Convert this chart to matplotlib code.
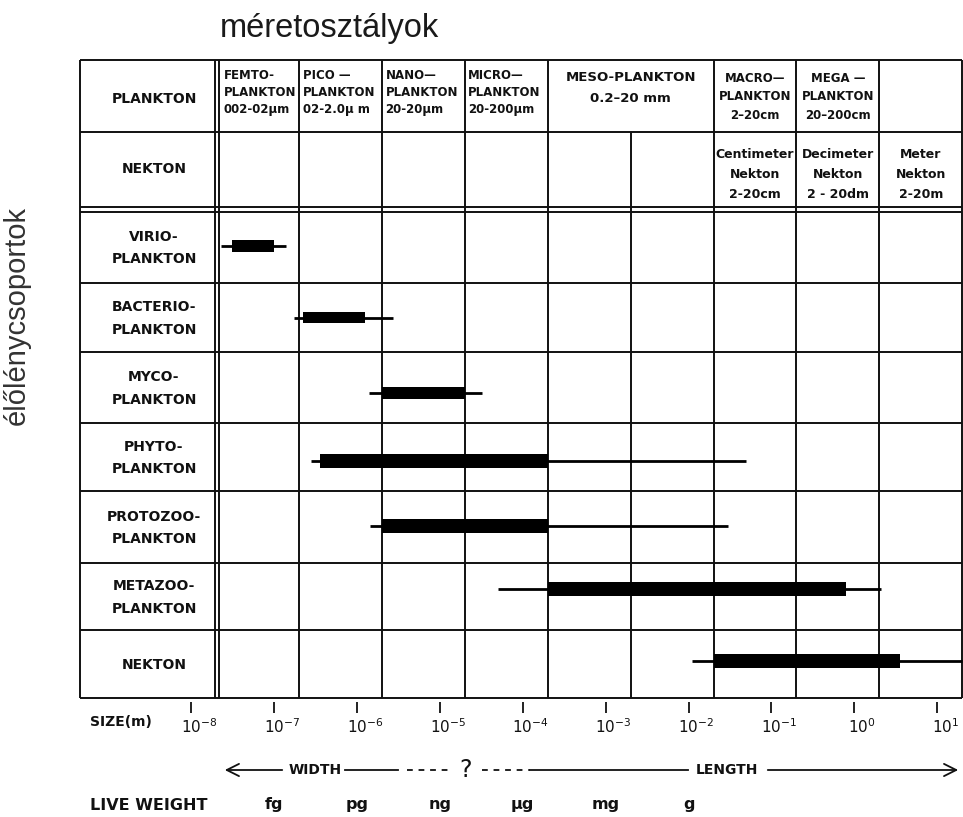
import numpy as np
import matplotlib
matplotlib.use('Agg')
import matplotlib.pyplot as plt
import matplotlib.transforms as mtransforms
from matplotlib.ticker import NullLocator

# organism groups (rows) and their size ranges in metres
groups = ['VIRIO-\nPLANKTON', 'BACTERIO-\nPLANKTON', 'MYCO-\nPLANKTON', 'PHYTO-\nPLANKTON',
          'PROTOZOO-\nPLANKTON', 'METAZOO-\nPLANKTON', 'NEKTON']
core_lo = [3.1e-8, 2.2e-7, 2e-6, 3.6e-7, 2e-6, 2e-4, 2e-2]
core_hi = [1.0e-7, 1.25e-6, 2e-5, 2e-4, 2e-4, 0.8, 3.6]
range_lo = [2.3e-8, 1.75e-7, 1.4e-6, 2.75e-7, 1.45e-6, 5e-5, 1.1e-2]
range_hi = [1.4e-7, 2.7e-6, 3.2e-5, 5e-2, 3e-2, 2.1, 20]

# size class borders (m) and the header texts
class_edges = [2e-8, 2e-7, 2e-6, 2e-5, 2e-4, 2e-2, 2e-1, 2, 20]
plankton_classes = ['FEMTO-\nPLANKTON\n002-02µm', 'PICO —\nPLANKTON\n02-2.0µ m', 'NANO—\nPLANKTON\n20-20µm',
                    'MICRO—\nPLANKTON\n20-200µm', 'MESO-PLANKTON\n0.2–20 mm', 'MACRO—\nPLANKTON\n2–20cm',
                    'MEGA —\nPLANKTON\n20–200cm', '']
nekton_classes = ['Centimeter\nNekton\n2-20cm', 'Decimeter\nNekton\n2 - 20dm', 'Meter\nNekton\n2-20m']

tick_sizes = [1e-8, 1e-7, 1e-6, 1e-5, 1e-4, 1e-3, 1e-2, 1e-1, 1e0, 1e1]
tick_labels = ['$10^{-8}$', '$10^{-7}$', '$10^{-6}$', '$10^{-5}$', '$10^{-4}$',
               '$10^{-3}$', '$10^{-2}$', '$10^{-1}$', '$10^{0}$', '$10^{1}$']
weight_sizes = [1e-7, 1e-6, 1e-5, 1e-4, 1e-3, 1e-2]
weight_labels = ['fg', 'pg', 'ng', 'µg', 'mg', 'g']

# layout (pixels from the top of the figure)
W, H = 963, 817
row_edges = [211.5, 283, 352, 423, 491, 563, 630, 698]
bar_dy = [-1, 0, 5, 4, -1, -8, -3]
bar_h = [12, 11, 12, 14, 14, 14, 14]
LW = 1.4
BOLD = dict(family='DejaVu Sans', fontweight='bold', color='#111111')

fig = plt.figure(figsize=(W / 100, H / 100), dpi=100)
ax = fig.add_axes([80 / W, (H - 702) / H, (962.5 - 80) / W, (702 - 60) / H])
ax.set_xscale('log')
x_left, x_right = 10 ** -9.3426, 20.2
ax.set_xlim(x_left, x_right)
ax.set_ylim(702, 60)
for s in ax.spines.values():
    s.set_visible(False)
ax.set_yticks([])
ax.xaxis.set_minor_locator(NullLocator())
ax.set_xticks(tick_sizes)
ax.set_xticklabels(tick_labels, fontsize=11, color='#111111')
ax.tick_params(axis='x', length=8, width=1.3, color='#111111', pad=3)
shift = mtransforms.ScaledTranslation(0.08, 0, fig.dpi_scale_trans)
for lbl in ax.get_xticklabels():
    lbl.set_transform(lbl.get_transform() + shift)

# table frame
line_kw = dict(color='#111111', lw=LW, clip_on=False)
ax.hlines([60, 131.7, 207, 211.5] + row_edges[1:], x_left, class_edges[-1], **line_kw)
ax.vlines([x_left, 1.93e-8, 2.19e-8] + class_edges[1:], 60, 698, **line_kw)
ax.vlines(2e-3, 131.7, 698, **line_kw)

# size ranges of the groups
centers = [(row_edges[i] + row_edges[i + 1]) / 2 for i in range(len(groups))]
bar_y = [c + d for c, d in zip(centers, bar_dy)]
ax.hlines(bar_y, range_lo, range_hi, color='#000000', lw=2.0, zorder=3)
ax.barh(bar_y, np.array(core_hi) - np.array(core_lo), left=core_lo, height=bar_h,
        color='#000000', zorder=4)

# header cells
for i, txt in enumerate(plankton_classes[:4]):
    lo = 2.48e-8 if i == 0 else class_edges[i] * 1.1
    ax.text(lo, 69, txt, ha='left', va='top', fontsize=8.5, linespacing=1.4, **BOLD)
ax.text(2e-3, 71, plankton_classes[4], ha='center', va='top', fontsize=9.5, linespacing=1.75, **BOLD)
for i in (5, 6):
    mid = np.sqrt(class_edges[i] * class_edges[i + 1])
    ax.text(mid, 72, plankton_classes[i], ha='center', va='top', fontsize=8.5, linespacing=1.55,
            multialignment='center', **BOLD)
for i, txt in enumerate(nekton_classes):
    mid = np.sqrt(class_edges[5 + i] * class_edges[6 + i])
    ax.text(mid, 148, txt, ha='center', va='top', fontsize=9, linespacing=1.7,
            multialignment='center', **BOLD)

label_x = 10 ** -8.45
ax.text(label_x, 99, 'PLANKTON', ha='center', va='center', fontsize=10, **BOLD)
ax.text(label_x, 169, 'NEKTON', ha='center', va='center', fontsize=10, **BOLD)
for c, g in zip(centers, groups):
    ax.text(label_x, c + 1, g, ha='center', va='center', fontsize=10, linespacing=1.75,
            multialignment='center', **BOLD)

# live weight row
for s, w in zip(weight_sizes, weight_labels):
    ax.text(s, 804, w, ha='center', va='center', fontsize=11.5, clip_on=False, **BOLD)

# overlay in pixel units for the free texts and arrows
ov = fig.add_axes([0, 0, 1, 1])
ov.set_xlim(0, W)
ov.set_ylim(H, 0)
ov.axis('off')
ov.text(220, 37, 'méretosztályok', ha='left', va='baseline', fontsize=23.5,
        family='Liberation Sans', color='#1a1a1a')
ov.text(17, 315, 'élőlénycsoportok', ha='center', va='center', rotation=90, fontsize=21,
        family='Liberation Sans', color='#333333')
ov.text(90, 722, 'SIZE(m)', ha='left', va='center', fontsize=10, **BOLD)
ov.text(90, 806, 'LIVE WEIGHT', ha='left', va='center', fontsize=11.5, **BOLD)

ay = 770
arrow_kw = dict(arrowstyle='->', lw=1.3, color='#111111', mutation_scale=22)
ov.annotate('', xy=(222, ay), xytext=(285, ay), arrowprops=arrow_kw)
ov.text(315, ay, 'WIDTH', ha='center', va='center', fontsize=10, **BOLD)
ov.plot([345, 398], [ay, ay], color='#111111', lw=1.3)
ov.plot([407, 452], [ay, ay], color='#111111', lw=1.3, ls=(0, (3.2, 3.2)))
ov.text(466, ay, '?', ha='center', va='center', fontsize=17, family='DejaVu Sans', color='#111111')
ov.plot([482, 530], [ay, ay], color='#111111', lw=1.3, ls=(0, (3.2, 3.2)))
ov.plot([530, 688], [ay, ay], color='#111111', lw=1.3)
ov.text(727, ay, 'LENGTH', ha='center', va='center', fontsize=10, **BOLD)
ov.annotate('', xy=(961, ay), xytext=(765, ay), arrowprops=arrow_kw)

fig.savefig('out.png', dpi=100, facecolor='white')
